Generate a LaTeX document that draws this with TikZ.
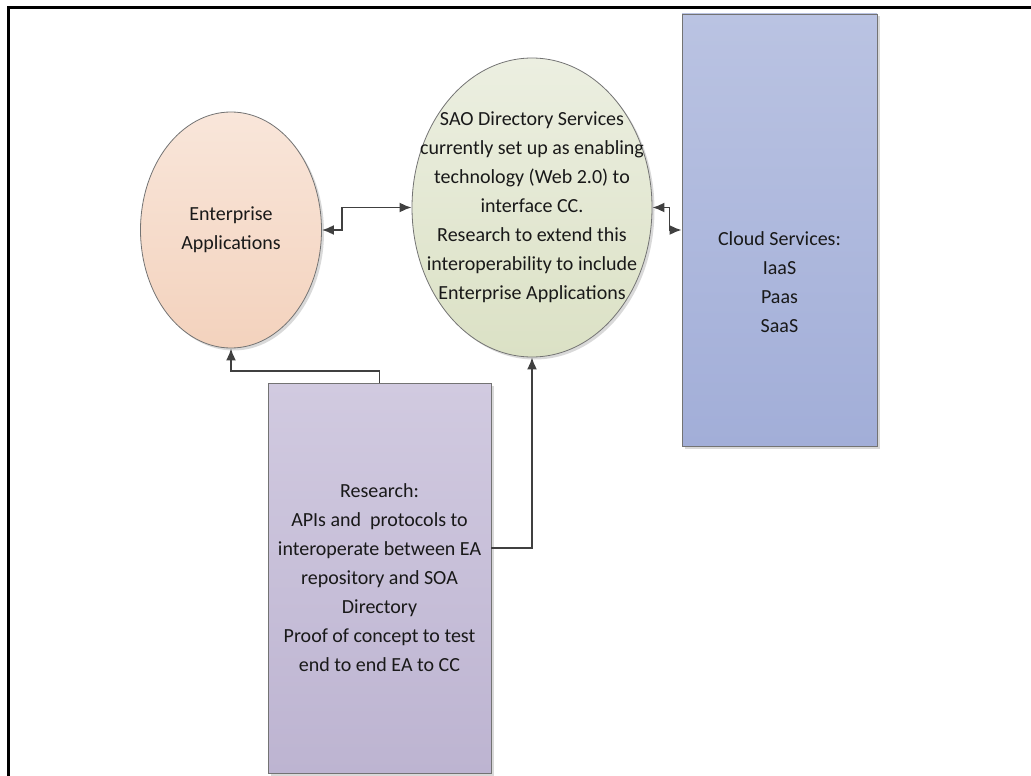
\documentclass[tikz,border=0pt]{standalone}
\usepackage{fontspec}
\setmainfont{Carlito}
\usepackage{xcolor}
\usepackage{tikz}
\usetikzlibrary{arrows.meta,positioning,calc,shapes.geometric,shadows}
\definecolor{eatop}{HTML}{F9E6DA}
\definecolor{eabot}{HTML}{F3D2BD}
\definecolor{soatop}{HTML}{ECEFE1}
\definecolor{soabot}{HTML}{DBE1C5}
\definecolor{cloudtop}{HTML}{BAC3E2}
\definecolor{cloudbot}{HTML}{A2AED8}
\definecolor{restop}{HTML}{D1CAE0}
\definecolor{resbot}{HTML}{BDB4D1}
\definecolor{linkgray}{HTML}{404040}
\tikzset{
  words/.style={align=center, font=\fontsize{20}{29}\selectfont, text=black!90},
  base/.style={words, draw=black!55, line width=0.8pt, inner sep=0pt,
    drop shadow={shadow xshift=2.5pt, shadow yshift=-2.5pt, fill=black, opacity=0.15}},
  bubble/.style={base, ellipse},
  block/.style={base, rectangle},
  link/.style={-{Latex[length=12pt,width=10pt]}, line width=1.8pt, draw=linkgray},
  both/.style={link, {Latex[length=12pt,width=10pt]}-{Latex[length=12pt,width=10pt]}}
}

\begin{document}
\begin{tikzpicture}[x=1pt, y=-1pt]
  \useasboundingbox (0,0) rectangle (1031,776);
  \clip (0,0) rectangle (1031,776);

  % Page frame
  \draw[line width=3pt] (8.5,800) -- (8.5,7.5) -- (1050,7.5);

  % Bubbles
  \node[bubble, top color=eatop, bottom color=eabot, minimum width=181pt, minimum height=236pt] (ea) at (231,230) {Enterprise\\Applications};
  \node[bubble, top color=soatop, bottom color=soabot, minimum width=240pt, minimum height=299pt,
    label={[words]center:SAO Directory Services\\currently set up as enabling\\technology (Web 2.0) to\\interface CC.\\Research to extend this\\interoperability to include\\Enterprise Applications}] (soa) at (532,207.5) {};

  % Blocks
  \node[block, top color=cloudtop, bottom color=cloudbot, minimum width=195pt, minimum height=432pt,
    label={[words, yshift=-52pt]center:Cloud Services:\\IaaS\\Paas\\SaaS}] (cloud) at (779.5,230) {};
  \node[block, top color=restop, bottom color=resbot, minimum width=223pt, minimum height=390pt] (res) at (379.5,578)
    {Research:\\APIs and~ protocols to\\interoperate between EA\\repository and SOA\\Directory\\Proof of concept to test\\end to end EA to CC};

  % Connectors
  \draw[both] (ea.east) -- ++(20,0) |- (soa.west);
  \draw[both] (soa.east) -- ++(17,0) |- (cloud.west);
  \draw[link] (res.north) -- ++(0,-12) -| (ea.south);
  \draw[link] ($(res.east)+(0,-30)$) -| (soa.south);

\end{tikzpicture}
\end{document}
